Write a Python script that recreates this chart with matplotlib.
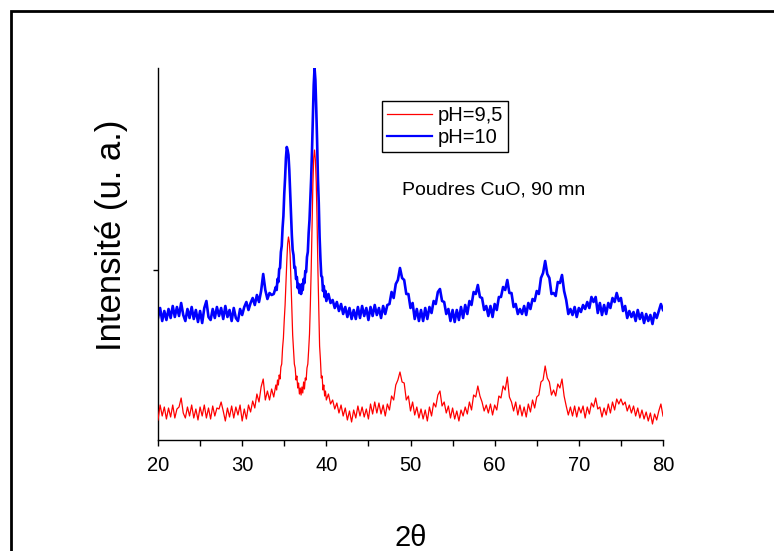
import numpy as np
import matplotlib
matplotlib.use("Agg")
import matplotlib.pyplot as plt
from matplotlib.lines import Line2D

plt.rcParams['font.family'] = ['Liberation Sans', 'DejaVu Sans']

# 2-theta sampling grid (degrees)
two_theta = np.concatenate([
    [20.0],
    np.linspace(20.25, 34.0, 56),
    np.linspace(34.1, 40.0, 60),
    np.linspace(40.25, 80.0, 160),
])

# intensity (arbitrary units), pH = 9.5
ph95 = [20,
    35, 24, 33, 21,
    32, 23, 35, 22,
    31, 33, 42, 27,
    22, 33, 24, 35,
    22, 31, 20, 33,
    24, 35, 22, 32,
    21, 34, 24, 32,
    31, 38, 29, 19,
    32, 23, 34, 22,
    33, 25, 35, 19,
    31, 21, 35, 28,
    39, 32, 46, 38,
    53, 61, 40, 49,
    40, 51, 43, 55,
    # 34.1 .. 40.0
    50, 60, 55, 65, 61, 73, 76, 92, 102, 120,
    135, 158, 178, 196, 203, 198, 185, 160, 132, 105,
    90, 76, 72, 60, 64, 52, 57, 46, 52, 45,
    53, 47, 58, 51, 62, 60, 72, 76, 90, 106,
    135, 170, 215, 255, 282, 290, 280, 258, 220, 170,
    130, 94, 80, 62, 64, 50, 55, 44, 49, 40,
    # 40.25 .. 80.0
    46, 36, 40, 31,
    37, 27, 35, 24,
    32, 20, 29, 18,
    30, 22, 34, 24,
    33, 23, 31, 21,
    36, 26, 38, 27,
    37, 26, 35, 24,
    36, 30, 44, 40,
    55, 60, 68, 58,
    57, 40, 44, 29,
    38, 25, 33, 22,
    31, 21, 30, 19,
    33, 24, 37, 33,
    45, 49, 34, 38,
    27, 34, 22, 32,
    21, 29, 19, 30,
    24, 33, 26, 38,
    30, 45, 43, 54,
    44, 38, 29, 35,
    27, 36, 25, 35,
    30, 44, 42, 54,
    50, 63, 43, 38,
    29, 38, 25, 35,
    24, 33, 23, 36,
    28, 40, 32, 43,
    45, 58, 60, 74,
    62, 58, 45, 50,
    44, 56, 52, 61,
    44, 34, 25, 33,
    24, 34, 23, 33,
    27, 34, 22, 33,
    26, 37, 33, 42,
    31, 33, 23, 32,
    25, 36, 27, 38,
    30, 41, 36, 41,
    35, 38, 29, 35,
    27, 34, 24, 32,
    22, 30, 21, 28,
    19, 27, 16, 26,
    20, 29, 36, 24,
]

# intensity (arbitrary units), pH = 10
ph10 = [122,
    132, 119, 129, 120,
    131, 122, 134, 123,
    133, 124, 137, 125,
    119, 131, 122, 133,
    121, 130, 118, 129,
    117, 132, 139, 123,
    120, 131, 122, 133,
    124, 132, 121, 134,
    123, 130, 119, 132,
    122, 119, 131, 125,
    133, 138, 130, 137,
    142, 135, 145, 138,
    149, 166, 150, 141,
    147, 145, 146, 153,
    # 34.1 .. 40.0
    150, 161, 158, 171, 172, 188, 194, 212, 224, 246,
    262, 282, 293, 290, 285, 270, 248, 225, 205, 190,
    185, 172, 173, 161, 163, 152, 156, 147, 155, 146,
    156, 150, 161, 157, 169, 168, 183, 188, 207, 220,
    240, 262, 290, 322, 355, 372, 360, 332, 300, 262,
    237, 203, 181, 164, 163, 149, 154, 143, 149, 139,
    # 40.25 .. 80.0
    146, 137, 140, 132,
    138, 129, 136, 126,
    133, 123, 132, 121,
    130, 121, 133, 122,
    134, 124, 132, 120,
    133, 124, 135, 125,
    132, 122, 134, 126,
    135, 136, 148, 142,
    156, 160, 172, 162,
    160, 146, 146, 132,
    137, 121, 131, 119,
    130, 119, 132, 121,
    133, 127, 139, 136,
    148, 151, 139, 138,
    126, 131, 119, 130,
    118, 130, 120, 133,
    122, 135, 126, 139,
    135, 148, 146, 155,
    143, 142, 130, 134,
    124, 134, 123, 136,
    130, 143, 143, 153,
    150, 160, 147, 147,
    133, 136, 126, 131,
    126, 134, 125, 137,
    131, 141, 139, 149,
    146, 162, 167, 179,
    166, 162, 146, 147,
    144, 158, 157, 165,
    149, 140, 126, 131,
    125, 133, 123, 132,
    128, 135, 131, 138,
    132, 143, 138, 143,
    127, 137, 125, 135,
    126, 137, 132, 142,
    138, 147, 139, 142,
    129, 134, 122, 129,
    123, 128, 119, 130,
    121, 127, 117, 126,
    119, 125, 116, 127,
    122, 129, 136, 130,
]

labels = ["pH=9,5", "pH=10"]
x_ticks = [20, 30, 40, 50, 60, 70, 80]
x_minor = [25, 35, 45, 55, 65, 75]
y_tick = [170]

W, H = 774, 551
fig = plt.figure(figsize=(W / 100, H / 100), dpi=100)
ax = fig.add_axes([158 / W, 1 - 440 / H, (663 - 158) / W, (440 - 68) / H])

l_blue, = ax.plot(two_theta, ph10, color='#0000ff', lw=1.9, label=labels[1], zorder=2)
l_red, = ax.plot(two_theta, ph95, color='#ff0000', lw=0.9, label=labels[0], zorder=3)

ax.set_xlim(20, 80)
ax.set_ylim(0, 372)
ax.set_xticks(x_ticks)
ax.set_xticks(x_minor, minor=True)
ax.set_yticks(y_tick)
ax.set_yticklabels([])
for s in ['top', 'right']:
    ax.spines[s].set_visible(False)
for s in ['left', 'bottom']:
    ax.spines[s].set_linewidth(1.0)
ax.tick_params(axis='x', which='major', direction='out', length=4.5, width=1.0,
               labelsize=14.5, pad=7)
ax.tick_params(axis='x', which='minor', direction='out', length=4, width=1.0)
ax.tick_params(axis='y', which='major', direction='out', length=3.5, width=1.0)

leg = ax.legend(handles=[l_red, l_blue], labels=labels, loc='upper left',
                bbox_to_anchor=(382 / W, 1 - 101 / H), bbox_transform=fig.transFigure,
                fontsize=14.5, frameon=True, fancybox=False, framealpha=1,
                edgecolor='black', borderpad=0.25, labelspacing=0.15,
                handlelength=2.25, handletextpad=0.25, borderaxespad=0)
leg.get_frame().set_linewidth(1.0)
leg_lines = leg.get_lines()
leg_lines[0].set_linewidth(0.9)
leg_lines[1].set_linewidth(1.6)

fig.text(494 / W, 1 - 190 / H, "Poudres CuO, 90 mn", fontsize=14, ha='center', va='center')
fig.text(112 / W, 1 - 235 / H, "Intensité (u. a.)", fontsize=25, rotation=90,
         ha='center', va='center')
fig.text(411 / W, 1 - 538 / H, "2θ", fontsize=21, ha='center', va='center')

# outer frame
fig.add_artist(Line2D([10.5 / W, 10.5 / W, 1.0], [0.0, 1 - 10.5 / H, 1 - 10.5 / H],
                      transform=fig.transFigure, color='black', lw=2.0,
                      solid_joinstyle='miter'))

fig.savefig("out.png", dpi=100)
